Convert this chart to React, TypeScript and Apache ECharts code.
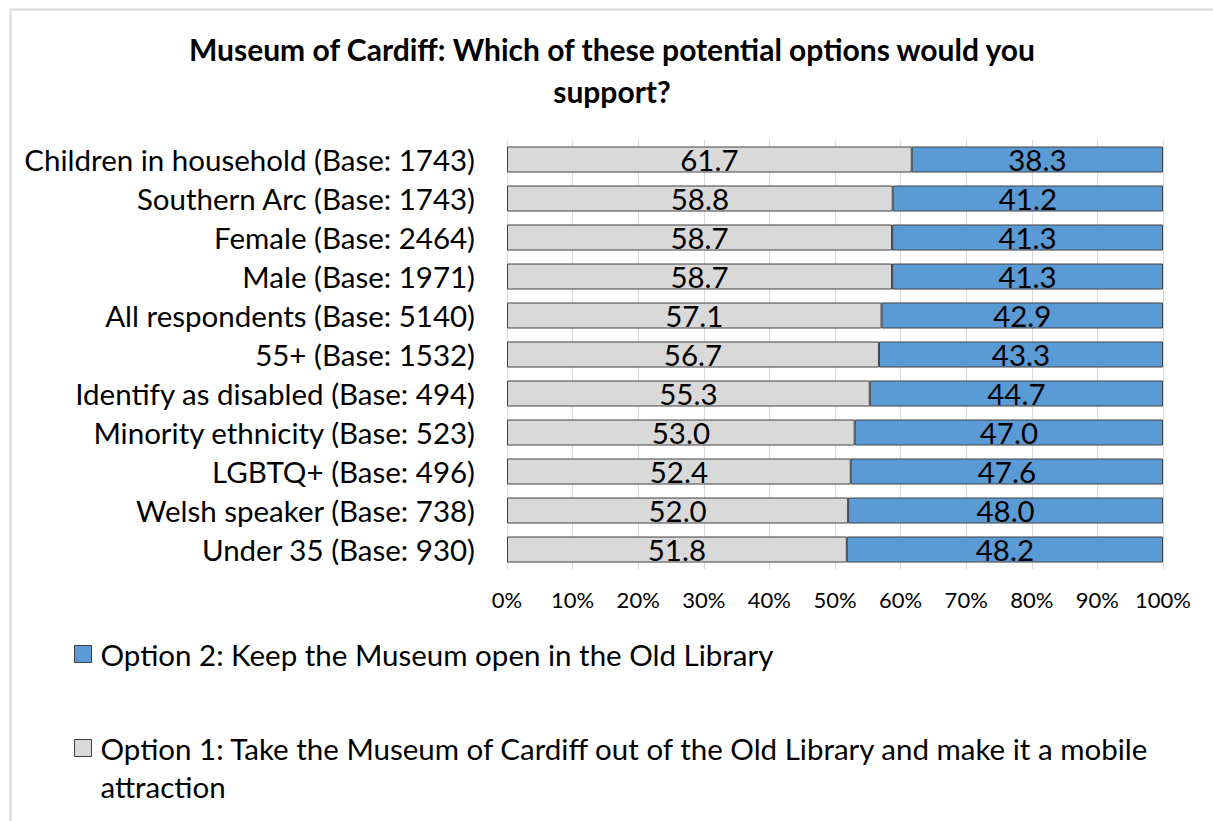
import React, { useEffect, useRef } from "react";
import * as echarts from "echarts";

const categories = [
  "Children in household (Base: 1743)",
  "Southern Arc (Base: 1743)",
  "Female (Base: 2464)",
  "Male (Base: 1971)",
  "All respondents (Base: 5140)",
  "55+ (Base: 1532)",
  "Identify as disabled (Base: 494)",
  "Minority ethnicity (Base: 523)",
  "LGBTQ+ (Base: 496)",
  "Welsh speaker (Base: 738)",
  "Under 35 (Base: 930)",
];
const option1Values = [61.7, 58.8, 58.7, 58.7, 57.1, 56.7, 55.3, 53.0, 52.4, 52.0, 51.8];
const option2Values = [38.3, 41.2, 41.3, 41.3, 42.9, 43.3, 44.7, 47.0, 47.6, 48.0, 48.2];
const option1Name = "Option 1: Take the Museum of Cardiff out of the Old Library and make it a mobile attraction";
const option2Name = "Option 2: Keep the Museum open in the Old Library";
const titleText = "Museum of Cardiff: Which of these potential options would you\nsupport?";

const FONT = "Lato";

export default function App() {
  const ref = useRef<HTMLDivElement>(null);
  useEffect(() => {
    if (!ref.current) return;
    const chart = echarts.init(ref.current, undefined, { renderer: "svg" });
    const labelCfg = {
      show: true,
      position: "inside",
      color: "#000",
      fontSize: 29.5,
      fontFamily: FONT,
      formatter: (p: any) => Number(p.value).toFixed(1),
    };
    chart.setOption({
      animation: false,
      backgroundColor: "#fff",
      textStyle: { fontFamily: FONT },
      title: {
        text: titleText,
        left: 607,
        textAlign: "center",
        top: 23,
        textStyle: { fontSize: 30, fontWeight: "bold", color: "#000", lineHeight: 42, fontFamily: FONT },
      },
      graphic: [
        {
          type: "rect",
          shape: { x: 10.5, y: 9.5, width: 1400, height: 1000 },
          style: { fill: "none", stroke: "#d9d9d9", lineWidth: 2 },
          silent: true,
        },
      ],
      legend: [
        {
          data: [option2Name],
          left: 69,
          top: 634,
          itemWidth: 17,
          itemHeight: 17,
          icon: "rect",
          itemStyle: { borderColor: "#404040", borderWidth: 1 },
          textStyle: { fontSize: 29.5, color: "#000", fontFamily: FONT, padding: [0, 0, 0, 4] },
        },
        {
          data: [option1Name],
          left: 69,
          top: 686,
          itemWidth: 17,
          itemHeight: 17,
          icon: "rect",
          itemStyle: { borderColor: "#404040", borderWidth: 1 },
          formatter: (name: string) => " \n" + name.replace(" attraction", "\nattraction"),
          textStyle: { fontSize: 29.5, color: "#000", fontFamily: FONT, lineHeight: 38, padding: [0, 0, 0, 4] },
        },
      ],
      grid: { left: 507, right: 50, top: 140, bottom: 252, containLabel: false },
      xAxis: {
        type: "value",
        min: 0,
        max: 100,
        interval: 10,
        axisLine: { show: false },
        axisTick: { show: false },
        splitLine: { show: true, lineStyle: { color: "#d9d9d9", width: 1 } },
        axisLabel: { formatter: "{value}%", fontSize: 22, color: "#000", margin: 19, fontFamily: FONT },
      },
      yAxis: {
        type: "category",
        data: categories,
        inverse: true,
        axisLine: { show: false },
        axisTick: { show: false },
        axisLabel: { fontSize: 29.5, color: "#000", margin: 32, fontFamily: FONT, interval: 0 },
      },
      series: [
        {
          name: option1Name,
          type: "bar",
          stack: "total",
          data: option1Values,
          barWidth: 26,
          itemStyle: { color: "#d9d9d9", borderColor: "#404040", borderWidth: 1 },
          label: labelCfg,
        },
        {
          name: option2Name,
          type: "bar",
          stack: "total",
          data: option2Values,
          barWidth: 26,
          itemStyle: { color: "#5b9bd5", borderColor: "#404040", borderWidth: 1 },
          label: labelCfg,
        },
      ],
    });
    return () => chart.dispose();
  }, []);
  return (
    <div
      ref={ref}
      style={{ position: "fixed", left: 0, top: 0, width: 1213, height: 821 }}
    />
  );
}
